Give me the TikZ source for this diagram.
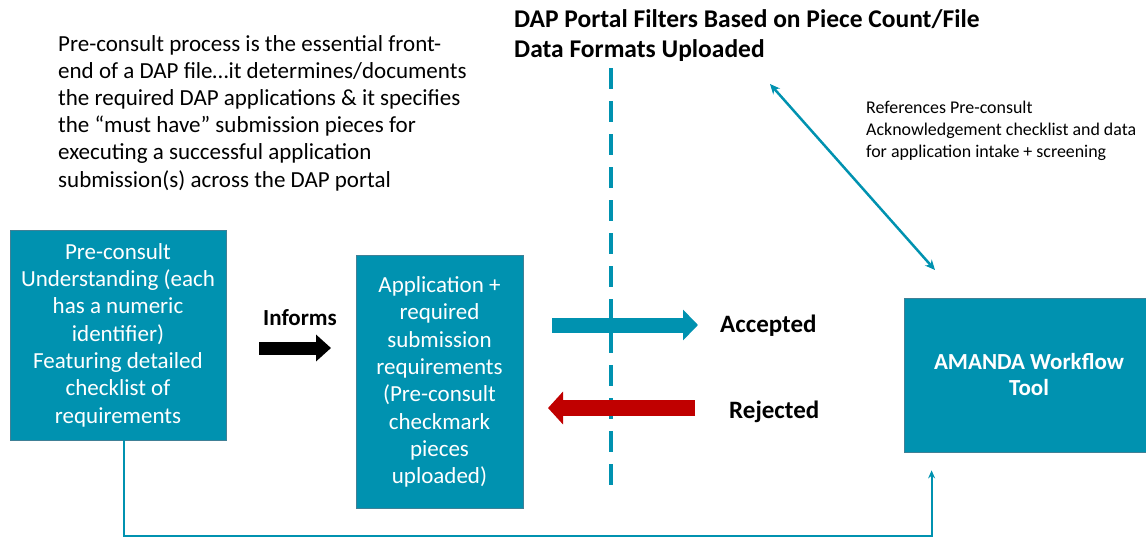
\documentclass[tikz,border=0pt]{standalone}
\usepackage{fontspec}
\setmainfont{Carlito}
\usetikzlibrary{arrows.meta,positioning}
\definecolor{dapteal}{RGB}{0,146,176}
\definecolor{dapedge}{RGB}{64,128,150}
\definecolor{dapred}{RGB}{192,0,0}
\tikzset{
  tealbox/.style={draw=dapedge, line width=0.8pt, fill=dapteal, text=white, align=center, inner sep=0pt,
    font=\fontsize{23}{27.3}\selectfont},
  blockarrow/.style={line width=#1, -{Triangle[width=2*#1,length=15pt]}},
  link/.style={draw=dapteal, line width=2pt},
  bigword/.style={font=\bfseries\fontsize{25}{28}\selectfont, inner sep=0pt}
}
\begin{document}
\begin{tikzpicture}[x=1pt, y=-1pt]
				\useasboundingbox (0,0) rectangle (1146,538);
				\node[anchor=north west, align=left, inner sep=0pt, font=\fontsize{23}{27.2}\selectfont] (intro) at (58,35)
				{Pre-consult process is the essential front-\\end of a DAP file\ldots it determines/documents\\the required DAP applications \& it specifies\\the “must have” submission pieces for\\executing a successful application\\submission(s) across the DAP portal};
				\node[anchor=north west, align=left, inner sep=0pt, font=\bfseries\fontsize{25.5}{30}\selectfont] (title) at (514,9)
				{DAP Portal Filters Based on Piece Count/File\\Data Formats Uploaded};
				\node[anchor=north west, align=left, inner sep=0pt, font=\fontsize{17.9}{22}\selectfont] (refs) at (866,101)
				{References Pre-consult\\Acknowledgement checklist and data\\for application intake + screening};
				\node[tealbox, minimum width=216pt, minimum height=210pt] (pre) at (118,335)
				{Pre-consult\\Understanding (each\\has a numeric\\identifier)\\Featuring detailed\\checklist of\\requirements};
				\node[tealbox, minimum width=167pt, minimum height=253pt] (app) at (439.5,382)
				{Application +\\required\\submission\\requirements\\(Pre-consult\\checkmark\\pieces\\uploaded)};
				\node[tealbox, minimum width=250pt, minimum height=154pt, font=\bfseries\fontsize{23}{26}\selectfont] (amanda) at (1029,375)
				{AMANDA Workflow\\Tool};
				% filter line
				\coordinate (filtertop) at (611,68);
				\coordinate (filterbot) at (611,488);
				\draw[dapteal, line width=3.6pt, dash pattern=on 21pt off 12pt] (filtertop) -- (filterbot);
				% informs
				\node[bigword, font=\bfseries\fontsize{23}{26}\selectfont] (informs) at (300,318) {Informs};
				\coordinate (inftail) at (259,348);
				\coordinate (infhead) at (331,348);
				\draw[blockarrow=13pt, black] (inftail) -- (infhead);
				% accepted / rejected
				\node[bigword, anchor=west] (accepted) at (720,326) {Accepted};
				\node[bigword, anchor=west] (rejected) at (729,412) {Rejected};
				\coordinate (acctail) at (552,325);
				\coordinate (acchead) at (698,325);
				\draw[blockarrow=15pt, dapteal] (acctail) -- (acchead);
				\coordinate (rejtail) at (695,408);
				\coordinate (rejhead) at (548,408);
				\draw[blockarrow=16pt, dapred] (rejtail) -- (rejhead);
				% references link
				\coordinate (dbltop) at (770,84);
				\coordinate (dblbot) at (935,270);
				\draw[dapteal, line width=2.5pt, {Stealth[length=10pt,width=9pt]}-{Stealth[length=10pt,width=9pt]}] (dbltop) -- (dblbot);
				% pre-consult to AMANDA
				\draw[link, -{Stealth[length=8pt,width=7pt]}, shorten >=18pt] ([xshift=6pt]pre.south) -- ++(0,96) -| ([xshift=28pt]amanda.south west);
			\end{tikzpicture}
\end{document}
